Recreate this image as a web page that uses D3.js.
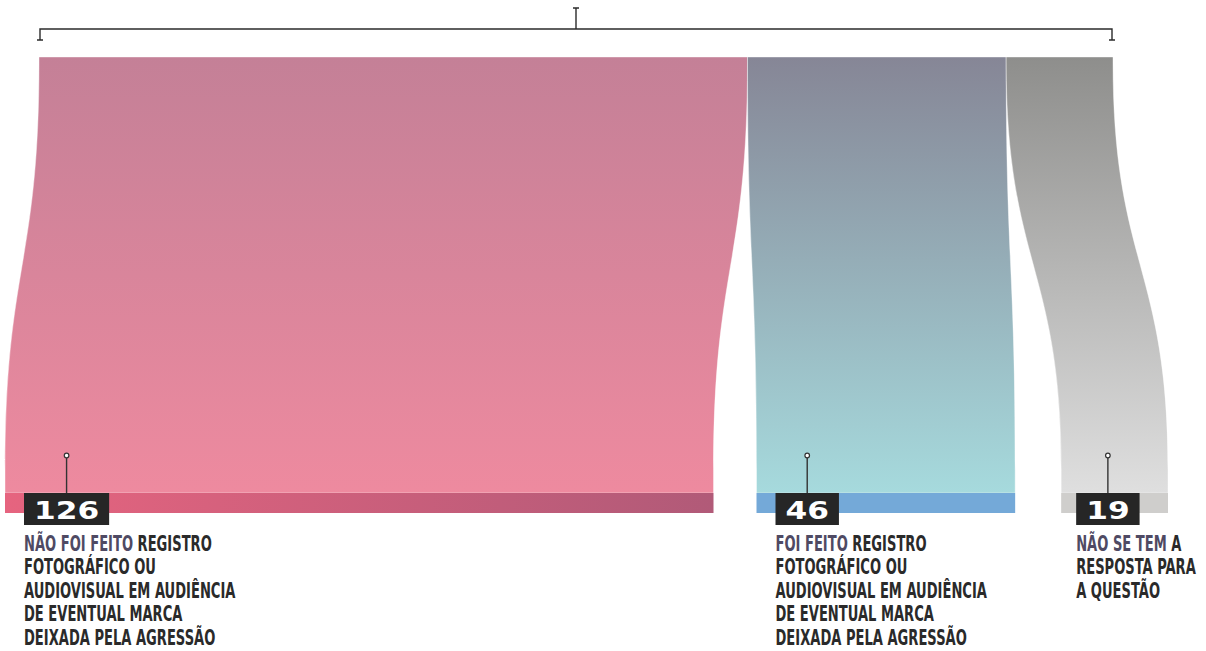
<!DOCTYPE html>
<html>
<head>
<meta charset="utf-8">
<script src="https://cdn.jsdelivr.net/npm/d3@7"></script>
<style>
  html, body { margin: 0; padding: 0; background: #fff; }
  svg { display: block; }
</style>
</head>
<body>
<script>
// Data
const categories = ["naoFeito", "feito", "semResposta"];
const values = [126, 46, 19];
const highlightText = ["NÃO FOI FEITO", "FOI FEITO", "NÃO SE TEM"];
const labelLines = [
    [" REGISTRO", "FOTOGRÁFICO OU", "AUDIOVISUAL EM AUDIÊNCIA", "DE EVENTUAL MARCA", "DEIXADA PELA AGRESSÃO"],
    [" REGISTRO", "FOTOGRÁFICO OU", "AUDIOVISUAL EM AUDIÊNCIA", "DE EVENTUAL MARCA", "DEIXADA PELA AGRESSÃO"],
    [" A", "RESPOSTA PARA", "A QUESTÃO"]
];

// Styles
const flowTopColors = ["#c48097", "#868696", "#8e8e8c"];
const flowBottomColors = ["#ee8a9f", "#a6dadd", "#dfdfdf"];
const barColors = [["#e6647f", "#b15a78"], ["#74a9d8", "#74a9d8"], ["#cfcecc", "#cfcecc"]];

// Layout
const width = 1206, height = 651;
const topY = 57, bottomY = 493, barH = 20;
const curveTop = 62, curveBottom = 470;
const bottomStart = 5, bottomGaps = [0, 43, 46];
const labelOffsets = [19, 19, 15];

const svg = d3.select("body").append("svg")
    .attr("width", width)
    .attr("height", height);

const defs = svg.append("defs");

const total = d3.sum(values);
const x = d3.scaleLinear().domain([0, total]).range([39, 1113]);

// top and bottom extents for every flow
const cum = d3.cumsum(values);
const nodes = values.map((v, i) => {
    const t0 = x(cum[i] - v), t1 = x(cum[i]);
    return {key: categories[i], value: v, t0: t0, t1: t1, w: t1 - t0};
});
let bx = bottomStart;
nodes.forEach((n, i) => {
    bx += bottomGaps[i];
    n.b0 = bx;
    n.b1 = bx + n.w;
    bx = n.b1;
});

// gradients
nodes.forEach((n, i) => {
    const g = defs.append("linearGradient")
        .attr("id", "flow-" + n.key)
        .attr("x1", 0).attr("y1", 0).attr("x2", 0).attr("y2", 1);
    g.append("stop").attr("offset", "0%").attr("stop-color", flowTopColors[i]);
    g.append("stop").attr("offset", "100%").attr("stop-color", flowBottomColors[i]);

    const b = defs.append("linearGradient")
        .attr("id", "bar-" + n.key)
        .attr("x1", 0).attr("y1", 0).attr("x2", 1).attr("y2", 0);
    b.append("stop").attr("offset", "0%").attr("stop-color", barColors[i][0]);
    b.append("stop").attr("offset", "100%").attr("stop-color", barColors[i][1]);
});

const flowPath = n => {
    const p = d3.path();
    const ym = (curveTop + curveBottom) / 2;
    p.moveTo(n.t0, topY);
    p.lineTo(n.t0, curveTop);
    p.bezierCurveTo(n.t0, ym, n.b0, ym, n.b0, curveBottom);
    p.lineTo(n.b0, bottomY);
    p.lineTo(n.b1, bottomY);
    p.lineTo(n.b1, curveBottom);
    p.bezierCurveTo(n.b1, ym, n.t1, ym, n.t1, curveTop);
    p.lineTo(n.t1, topY);
    p.closePath();
    return p.toString();
};

svg.append("g").selectAll("path")
    .data(nodes)
    .join("path")
    .attr("d", flowPath)
    .attr("fill", n => "url(#flow-" + n.key + ")")
    .attr("stroke", "#fff")
    .attr("stroke-opacity", 0.5)
    .attr("stroke-width", 0.8);

// bottom bars
svg.append("g").selectAll("rect")
    .data(nodes)
    .join("rect")
    .attr("x", n => n.b0)
    .attr("y", bottomY)
    .attr("width", n => n.w)
    .attr("height", barH)
    .attr("fill", n => "url(#bar-" + n.key + ")");

// bracket on top
const bracket = svg.append("g")
    .attr("stroke", "#2b2b2b")
    .attr("stroke-width", 1.4)
    .attr("fill", "none");
const bx0 = x(0) + 1, bx1 = x(total) - 1, bmid = (bx0 + bx1) / 2;
bracket.append("path")
    .attr("d", `M${bx0},40 V29 H${bx1} V40 M${bx0 - 3},40 H${bx0 + 3} M${bx1 - 3},40 H${bx1 + 3} M${bmid},29 V8 M${bmid - 3},8 H${bmid + 3}`);

// number boxes, pins and labels
const labels = svg.append("g").selectAll("g")
    .data(nodes)
    .join("g")
    .attr("transform", (n, i) => `translate(${n.b0 + labelOffsets[i]},0)`);

labels.each(function (n, i) {
    const g = d3.select(this);
    const numText = g.append("text")
        .attr("y", bottomY + 26)
        .attr("fill", "#fff")
        .attr("font-family", "DejaVu Sans")
        .attr("font-weight", "bold")
        .attr("font-size", 24)
        .attr("text-anchor", "middle")
        .text(n.value);
    const tw = numText.node().getComputedTextLength() * 1.3;
    const boxW = tw + 20;
    numText.attr("transform", `translate(${boxW / 2},0) scale(1.3,1)`);
    g.insert("rect", "text")
        .attr("x", 0)
        .attr("y", bottomY)
        .attr("width", boxW)
        .attr("height", 32)
        .attr("fill", "#262626");

    // pin
    g.append("line")
        .attr("x1", boxW / 2).attr("x2", boxW / 2)
        .attr("y1", bottomY - 35).attr("y2", bottomY)
        .attr("stroke", "#333")
        .attr("stroke-width", 1.4);
    g.append("circle")
        .attr("cx", boxW / 2)
        .attr("cy", bottomY - 37.5)
        .attr("r", 2.3)
        .attr("fill", "#fff")
        .attr("stroke", "#333")
        .attr("stroke-width", 1.2);

    // label text
    const label = g.append("text")
        .attr("transform", "scale(0.71,1)")
        .attr("font-family", "'DejaVu Sans Condensed', 'DejaVu Sans', sans-serif")
        .attr("font-weight", "bold")
        .attr("font-size", 20.5)
        .attr("fill", "#2a2a2a");
    labelLines[i].forEach((line, j) => {
        if (j === 0) {
            label.append("tspan")
                .attr("x", 0).attr("y", 551)
                .attr("fill", "#4f4a63")
                .text(highlightText[i]);
            label.append("tspan").text(line);
        } else {
            label.append("tspan")
                .attr("x", 0).attr("y", 551 + j * 23.5)
                .text(line);
        }
    });
});
</script>
</body>
</html>
